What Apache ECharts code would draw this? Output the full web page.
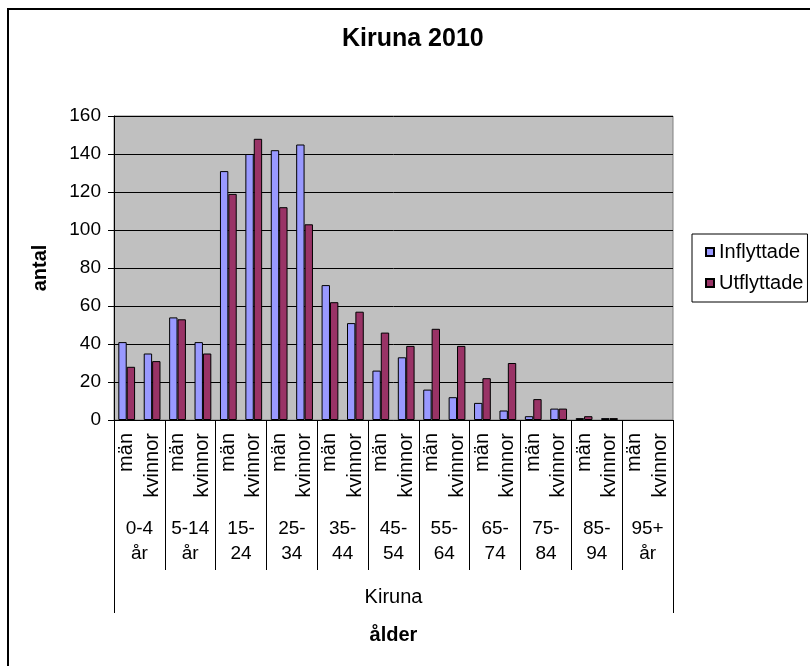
<!DOCTYPE html>
<html>
<head>
<meta charset="utf-8">
<script src="https://cdn.jsdelivr.net/npm/echarts@6/dist/echarts.min.js"></script>
<style>
html, body { margin: 0; padding: 0; background: #fff; }
#container { width: 810px; height: 666px; }
</style>
</head>
<body>
<div id="container"></div>
<script>
var sexes = ['män', 'kvinnor'];
var ageGroups = ['0-4\når', '5-14\når', '15-\n24', '25-\n34', '35-\n44', '45-\n54', '55-\n64', '65-\n74', '75-\n84', '85-\n94', '95+\når'];
// 95+ år har inga staplar i bilden (null = inget värde)
var inflyttade = [41, 35, 54, 41, 131, 140, 142, 145, 71, 51, 26, 33, 16, 12, 9, 5, 2, 6, 1, 1, null, null];
var utflyttade = [28, 31, 53, 35, 119, 148, 112, 103, 62, 57, 46, 39, 48, 39, 22, 30, 11, 6, 2, 1, null, null];

var font = 'Liberation Sans, Arial, sans-serif';
var categories = [];
ageGroups.forEach(function () { categories.push(sexes[0], sexes[1]); });

var chart = echarts.init(document.getElementById('container'));
var option = {
    animation: false,
    textStyle: { fontFamily: font, color: '#000' },
    title: {      // diagramrubrik
        text: 'Kiruna 2010',
        left: 342, top: 27, padding: 0,
        textStyle: { fontFamily: font, fontSize: 25, fontWeight: 'bold', color: '#000' }
    },
    legend: {
        data: ['Inflyttade', 'Utflyttade'],
        orient: 'vertical',
        left: 692, top: 234,
        padding: [8, 4, 9, 13],
        itemWidth: 8, itemHeight: 8, itemGap: 11,
        borderColor: '#000', borderWidth: 1,
        icon: 'rect',
        textStyle: { fontFamily: font, fontSize: 20, color: '#000' }
    },
    grid: {
        left: 114, top: 116, width: 559, height: 304,
        show: true, backgroundColor: '#c0c0c0', borderColor: '#808080', borderWidth: 1,
        outerBoundsMode: 'none'
    },
    xAxis: [
        {   // kön
            type: 'category', data: categories, position: 'bottom',
            axisLine: { lineStyle: { color: '#000', width: 1 } },
            axisTick: { interval: 0, length: 78, lineStyle: { color: '#000' } },
            axisLabel: { interval: 0, rotate: 90, margin: 13, fontSize: 20, color: '#000', fontFamily: font }
        },
        {   // åldersgrupp
            type: 'category', data: ageGroups, position: 'bottom',
            axisLine: { show: false },
            axisTick: { show: true, interval: 0, length: 150, lineStyle: { color: '#000' } },
            axisLabel: { interval: 0, margin: 96, fontSize: 19, lineHeight: 25, color: '#000', fontFamily: font }
        },
        {   // kommun
            type: 'category', data: ['Kiruna'], position: 'bottom',
            axisLine: { show: false },
            axisTick: { show: true, interval: 0, length: 193, lineStyle: { color: '#000' } },
            axisLabel: { interval: 0, margin: 167, fontSize: 20, color: '#000', fontFamily: font },
            name: 'ålder', nameLocation: 'middle', nameGap: 205, nameMoveOverlap: false,
            nameTextStyle: { fontFamily: font, fontSize: 20, fontWeight: 'bold', color: '#000' }
        }
    ],
    yAxis: {
        type: 'value', min: 0, max: 160, interval: 20,
        name: 'antal', nameLocation: 'middle', nameRotate: 90, nameGap: 64, nameMoveOverlap: false,
        nameTextStyle: { fontFamily: font, fontSize: 20, fontWeight: 'bold', color: '#000' },
        axisLine: { show: true, lineStyle: { color: '#000' } },
        axisTick: { show: true, length: 6, lineStyle: { color: '#000' } },
        axisLabel: { margin: 13, fontSize: 19, color: '#000', fontFamily: font },
        splitLine: { lineStyle: { color: '#000', width: 1 } }
    },
    series: [
        {
            name: 'Inflyttade', type: 'bar', data: inflyttade,
            barGap: '0%', barCategoryGap: '34%',
            itemStyle: { color: '#9999ff', borderColor: '#000', borderWidth: 1 }
        },
        {
            name: 'Utflyttade', type: 'bar', data: utflyttade,
            barGap: '0%', barCategoryGap: '34%',
            itemStyle: { color: '#993366', borderColor: '#000', borderWidth: 1 }
        }
    ],
    graphic: [
        {   // diagramramen
            type: 'rect', silent: true, z: -1,
            shape: { x: 8, y: 9, width: 830, height: 690 },
            style: { fill: null, stroke: '#000', lineWidth: 2 }
        }
    ]
};
chart.setOption(option);
</script>
</body>
</html>
